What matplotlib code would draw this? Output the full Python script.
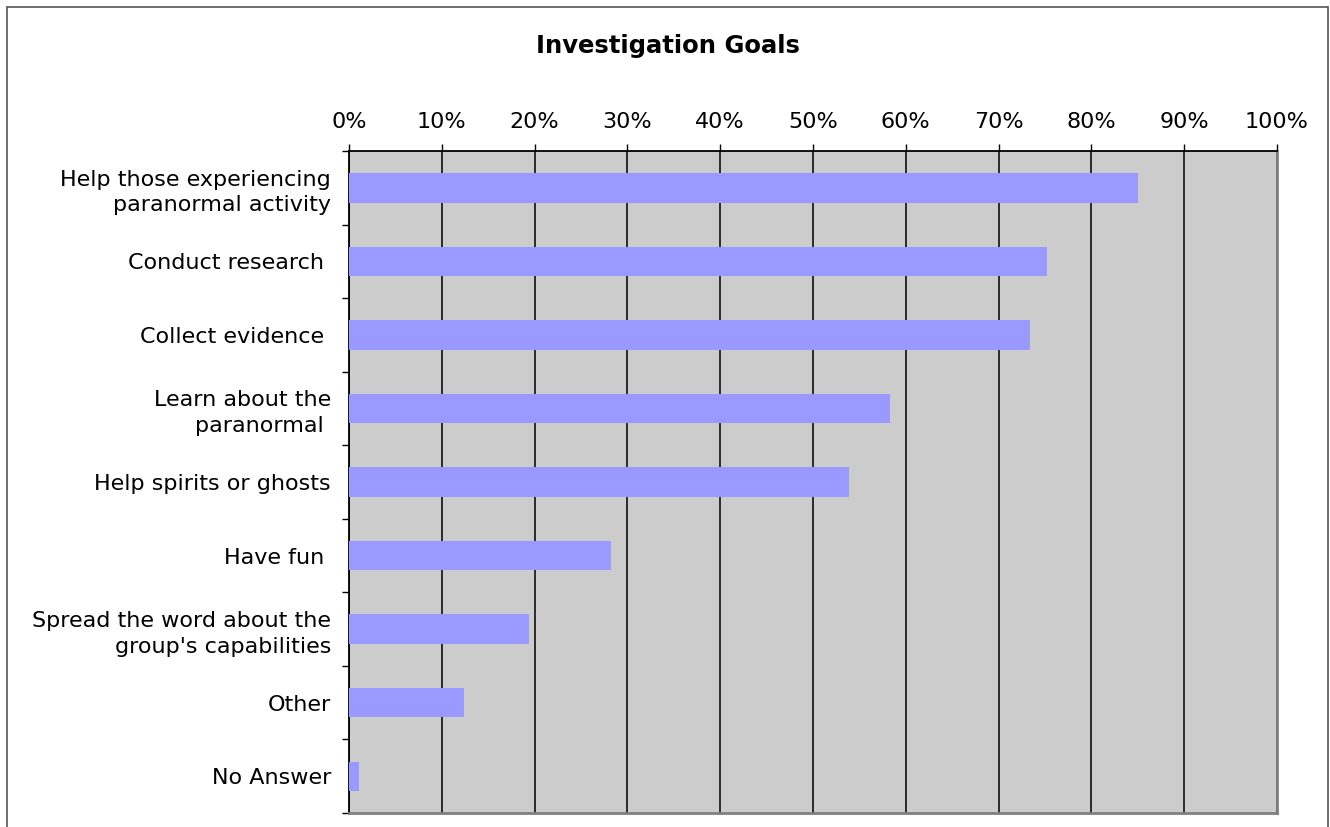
import numpy as np
import matplotlib.pyplot as plt
from matplotlib.patches import Rectangle
from matplotlib.ticker import FixedLocator, PercentFormatter

goals = ['Help those experiencing\nparanormal activity', 'Conduct research ',
         'Collect evidence ', 'Learn about the\nparanormal ', 'Help spirits or ghosts',
         'Have fun ', 'Spread the word about the\ngroup\'s capabilities', 'Other',
         'No Answer']
shares = [85.0, 75.2, 73.4, 58.3, 53.9, 28.2, 19.4, 12.4, 1.1]
x_ticks = list(range(0, 101, 10))

plt.rcParams['font.family'] = ['DejaVu Sans']

fig = plt.figure(figsize=(13.3, 8.27), dpi=100)
ax = fig.add_axes([0.2624, 0.0169, 0.6977, 0.8005])

# outer chart frame
fig.patches.append(Rectangle((7 / 1330, -0.05), 1321 / 1330, 1.05 - 7 / 827,
                             transform=fig.transFigure, fill=False,
                             edgecolor='#555555', linewidth=1.2))

y = np.arange(len(goals))
ax.set_facecolor('#cccccc')
ax.barh(y, shares, height=0.4, color='#9999ff', zorder=3)

ax.set_xlim(0, 100)
ax.set_ylim(len(goals) - 0.5, -0.5)

ax.xaxis.tick_top()
ax.set_xticks(x_ticks)
ax.xaxis.set_major_formatter(PercentFormatter(decimals=0))
ax.tick_params(axis='x', length=5, width=1, pad=8.5, labelsize=16, colors='black')
ax.grid(axis='x', color='black', linewidth=1.1, zorder=1)

ax.set_yticks(y)
ax.set_yticklabels(goals, fontsize=16, linespacing=1.35)
ax.yaxis.set_minor_locator(FixedLocator(np.arange(-0.5, len(goals), 1)))
ax.tick_params(axis='y', which='major', length=0, pad=13)
ax.tick_params(axis='y', which='minor', length=5, width=1)

for side in ['top', 'left']:
    ax.spines[side].set_color('black')
    ax.spines[side].set_linewidth(1.3)
for side in ['bottom', 'right']:
    ax.spines[side].set_color('#808080')
    ax.spines[side].set_linewidth(2)

fig.text(0.5025, 0.944, 'Investigation Goals', ha='center', va='center',
         fontsize=17.5, fontweight='bold')

fig.savefig('out.png', dpi=100)
